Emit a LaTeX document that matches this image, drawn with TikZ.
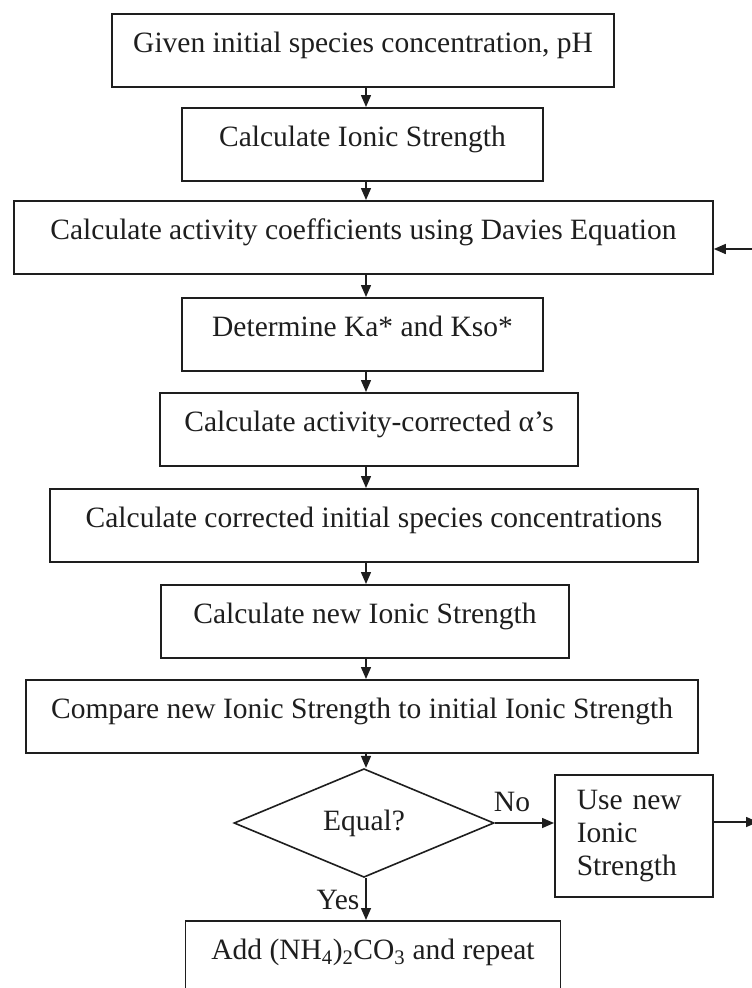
\documentclass[tikz,border=0pt]{standalone}
\usepackage{fontspec}
\setmainfont{Liberation Serif}
\usetikzlibrary{arrows.meta,shapes.geometric}
\definecolor{ink}{HTML}{1E1E1E}
\begin{document}
\begin{tikzpicture}[x=1pt,y=-1pt,
  every node/.style={text=ink},
  stepbox/.style={draw=ink, line width=1.6pt, rectangle, anchor=north,
    inner xsep=0pt, inner ysep=0pt, text height=39pt, text depth=34pt,
    font=\fontsize{29.5}{33}\selectfont},
  arr/.style={draw=ink, line width=1.5pt, -{Triangle[length=12pt,width=10pt]}},
  lbl/.style={font=\fontsize{29.5}{33}\selectfont, inner sep=0pt}]
\useasboundingbox (0,0) rectangle (752,988);
\clip (0,0) rectangle (752,988);
\fill[white] (0,0) rectangle (752,988);
\coordinate (spine) at (366,0);
\node[stepbox, minimum width=502] (b1) at (363,13) {Given initial species concentration, pH};
\node[stepbox, minimum width=361] (b2) at (362.5,107) {Calculate Ionic Strength};
\node[stepbox, minimum width=699] (b3) at (363.5,200) {Calculate activity coefficients using Davies Equation};
\node[stepbox, minimum width=361] (b4) at (362.5,297) {Determine Ka* and Kso*};
\node[stepbox, minimum width=418] (b5) at (369,392) {Calculate activity-corrected α’s};
\node[stepbox, minimum width=648] (b6) at (374,488) {Calculate corrected initial species concentrations};
\node[stepbox, minimum width=408] (b7) at (365,584) {Calculate new Ionic Strength};
\node[stepbox, minimum width=672] (b8) at (362,679) {Compare new Ionic Strength to initial Ionic Strength};
\node[draw=ink, line width=1.6pt, diamond, minimum width=260, minimum height=95, inner sep=0pt,
  font=\fontsize{29.5}{33}\selectfont] (eq) at (364,823) {Equal?};
\node[draw=ink, line width=1.6pt, rectangle, anchor=north west, minimum width=158, minimum height=122,
  text width=114, inner xsep=22, inner ysep=0pt, align=left,
  font=\fontsize{29.5}{33}\selectfont] (use) at (554,774) {Use new\\Ionic\\Strength};
\node[stepbox, minimum width=375, text depth=80pt] (b9) at (373,920) {Add (NH\textsubscript{4})\textsubscript{2}CO\textsubscript{3} and repeat};
\coordinate (outR) at (758,822);
\coordinate (inR) at (758,249);
\draw[arr] (b1.south -| spine) -- (b2.north -| spine);
\draw[arr] (b2.south -| spine) -- (b3.north -| spine);
\draw[arr] (b3.south -| spine) -- (b4.north -| spine);
\draw[arr] (b4.south -| spine) -- (b5.north -| spine);
\draw[arr] (b5.south -| spine) -- (b6.north -| spine);
\draw[arr] (b6.south -| spine) -- (b7.north -| spine);
\draw[arr] (b7.south -| spine) -- (b8.north -| spine);
\draw[arr] (b8.south -| spine) -- (eq.north -| spine);
\draw[arr] (eq.south -| spine) -- (b9.north -| spine);
\draw[arr] (eq.east) -- (use.west |- eq.east);
\draw[arr] (use.east |- outR) -- (outR);
\draw[arr] (inR) -- (b3.east |- inR);
\node[lbl] (no) at (512,802) {No};
\node[lbl] (yes) at (338,900) {Yes};
\end{tikzpicture}
\end{document}
